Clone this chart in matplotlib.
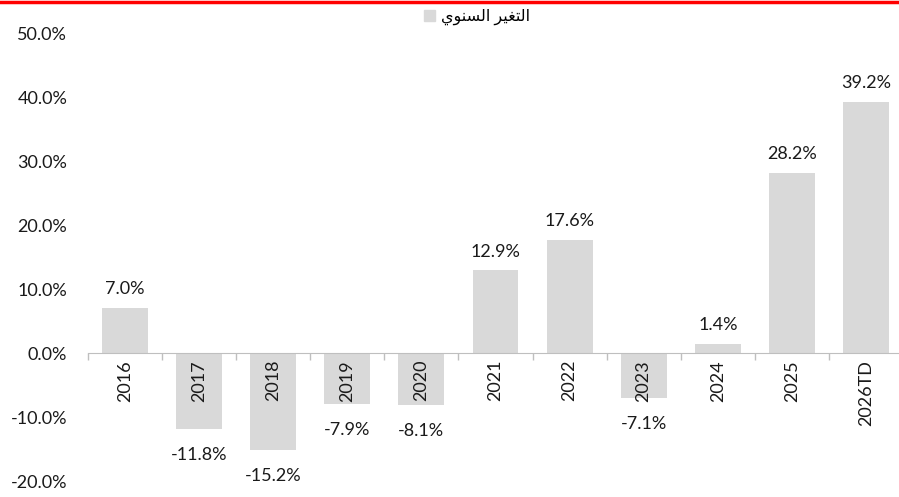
import matplotlib.pyplot as plt
from matplotlib.patches import Patch
from matplotlib.lines import Line2D

years = ["2016", "2017", "2018", "2019", "2020", "2021", "2022", "2023", "2024", "2025", "2026TD"]
changes = [7.0, -11.8, -15.2, -7.9, -8.1, 12.9, 17.6, -7.1, 1.4, 28.2, 39.2]
legend_label = "التغير السنوي"

# minimal arabic shaping (matplotlib has no bidi/shaping): isolated, final, initial, medial
FORMS = {
    "ا": ("\ufe8d", "\ufe8e", None, None),
    "ل": ("\ufedd", "\ufede", "\ufedf", "\ufee0"),
    "ت": ("\ufe95", "\ufe96", "\ufe97", "\ufe98"),
    "غ": ("\ufecd", "\ufece", "\ufecf", "\ufed0"),
    "ي": ("\ufef1", "\ufef2", "\ufef3", "\ufef4"),
    "ر": ("\ufead", "\ufeae", None, None),
    "س": ("\ufeb1", "\ufeb2", "\ufeb3", "\ufeb4"),
    "ن": ("\ufee5", "\ufee6", "\ufee7", "\ufee8"),
    "و": ("\ufeed", "\ufeee", None, None),
}


def shape(text):
    out = []
    for i, ch in enumerate(text):
        if ch not in FORMS:
            out.append(ch)
            continue
        prev = text[i - 1] if i > 0 else ""
        nxt = text[i + 1] if i + 1 < len(text) else ""
        join_prev = prev in FORMS and FORMS[prev][2] is not None
        join_next = nxt in FORMS and FORMS[ch][2] is not None
        iso, fin, ini, med = FORMS[ch]
        if join_prev and join_next:
            out.append(med)
        elif join_prev:
            out.append(fin)
        elif join_next:
            out.append(ini)
        else:
            out.append(iso)
    return "".join(out)[::-1]


plt.rcParams["font.family"] = ["Lato", "DejaVu Sans"]

W, H = 899, 497
fig = plt.figure(figsize=(W / 100, H / 100), dpi=100)
ax = fig.add_axes([88 / W, 1 - 481 / H, (903 - 88) / W, (481 - 33) / H])
ax.set_axisbelow(False)

bar_color = "#d9d9d9"
txt_color = "#1a1a1a"
fs = 13
x = range(len(years))
ax.bar(x, changes, width=0.62, color=bar_color, zorder=1)

for xi, v in zip(x, changes):
    if v >= 0:
        ax.annotate(f"{v:.1f}%", (xi, v), xytext=(0, 10), textcoords="offset points",
                    ha="center", va="baseline", fontsize=fs, color=txt_color)
    else:
        ax.annotate(f"{v:.1f}%", (xi, v), xytext=(0, -13), textcoords="offset points",
                    ha="center", va="top", fontsize=fs, color=txt_color)

ax.set_xlim(-0.5, len(years) - 0.5)
ax.set_ylim(-20, 50)
ax.set_yticks(range(-20, 51, 10))
ax.set_yticklabels([f"{t:.1f}%" for t in range(-20, 51, 10)])
ax.tick_params(axis="y", length=0, pad=15, labelsize=fs, labelcolor=txt_color)

ax.set_xticks(list(x))
ax.set_xticklabels(years)
ax.set_xticks([i - 0.5 for i in range(len(years) + 1)], minor=True)
ax.tick_params(axis="x", which="major", length=0, pad=5, labelrotation=90,
               labelsize=fs, labelcolor=txt_color)
ax.tick_params(axis="x", which="minor", length=5, color="#bfbfbf", width=1)

for s in ["top", "right", "left"]:
    ax.spines[s].set_visible(False)
ax.spines["bottom"].set_position(("data", 0))
ax.spines["bottom"].set_color("#bfbfbf")

fig.legend(handles=[Patch(color=bar_color)], labels=[shape(legend_label)],
           loc="center", bbox_to_anchor=(477 / W, 1 - 17 / H), frameon=False,
           handlelength=0.7, handleheight=0.7, handletextpad=0.4, fontsize=11.5)

# red rule across the top
fig.add_artist(Line2D([0, 1], [1 - 2 / H, 1 - 2 / H], color="#ff0000", lw=2.5,
                      transform=fig.transFigure))

fig.savefig("out.png", dpi=100)
